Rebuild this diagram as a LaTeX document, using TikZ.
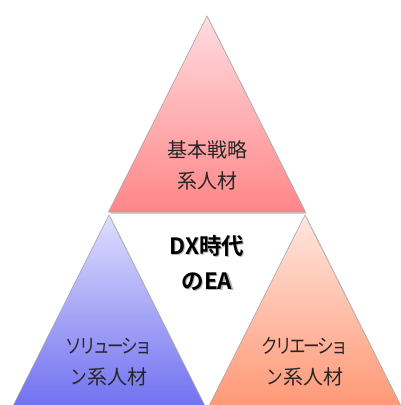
\documentclass[tikz,border=0pt]{standalone}
\usepackage{graphicx}
\usepackage{fontspec}
\newfontfamily\jp{Noto Sans CJK JP}
\newfontfamily\jpb{Noto Sans CJK JP Bold}
\newcommand\kk{\kern-3pt\relax}
\newcommand\kana[1]{\scalebox{0.83}[1]{#1}}
\begin{document}
\begin{tikzpicture}[x=1pt,y=-1pt,
  tri/.style={draw=black!35, line width=0.6pt},
  shad/.style={fill=black!18, draw=none},
  lbl/.style={font=\jp\fontsize{20}{31}\selectfont, text=black!85, align=center, inner sep=0pt},
  ctr/.style={font=\jpb\fontsize{22.5}{35}\selectfont, text=black, align=center, inner sep=0pt}]
\useasboundingbox (0,0) rectangle (401,405);
% shadows
\fill[shad] (208.5,17.5) -- (306.5,214) -- (110.5,214) -- cycle;
\fill[shad] (110.5,216.5) -- (208.5,413) -- (12.5,413) -- cycle;
\fill[shad] (306.5,216.5) -- (404.5,413) -- (208.5,413) -- cycle;
% triangles
\shade[tri, top color={rgb,255:red,255;green,220;blue,224}, bottom color={rgb,255:red,255;green,134;blue,136}]
  (207,16) -- (305.5,212) -- (108.5,212) -- cycle;
\shade[tri, top color={rgb,255:red,222;green,222;blue,255}, bottom color={rgb,255:red,110;green,110;blue,240}]
  (109,215) -- (207.5,411) -- (10.5,411) -- cycle;
\shade[tri, top color={rgb,255:red,255;green,230;blue,222}, bottom color={rgb,255:red,255;green,150;blue,115}]
  (305,215) -- (403.5,411) -- (206.5,411) -- cycle;
% labels
\node[lbl] (top) at (207,165) {基本戦略\\系人材};
\node[lbl] (left) at (109,362) {\kana{ソ\kk リ\kk ュ\kk ー\kk シ\kk ョ}\\\kana{ン}系人材};
\node[lbl] (right) at (305,362) {\kana{ク\kk リ\kk エ\kk ー\kk シ\kk ョ}\\\kana{ン}系人材};
\node[ctr, text=black!30] at (208.2,263.8) {DX時代\\のEA};
\node[ctr] (center) at (207,262.5) {DX時代\\のEA};
\end{tikzpicture}
\end{document}
